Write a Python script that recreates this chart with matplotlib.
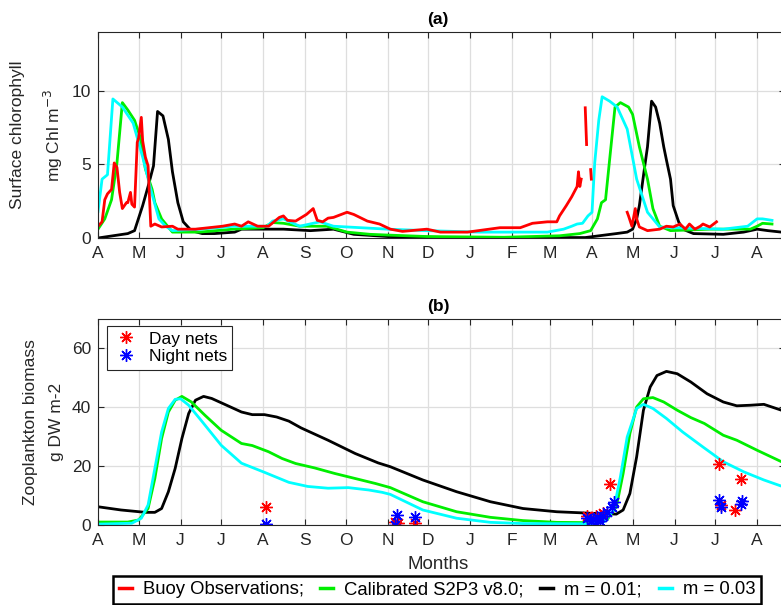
import numpy as np
import matplotlib
matplotlib.use('Agg')
import matplotlib.pyplot as plt
from matplotlib.lines import Line2D

plt.rcParams['font.family'] = ['Liberation Sans', 'DejaVu Sans']

# x axis is days since 1 April of the first year
MONTH_DAYS = [0, 30, 61, 91, 122, 153, 183, 214, 244, 275, 306, 334, 365, 395, 426, 456, 487]
MONTH_LABELS = ['A', 'M', 'J', 'J', 'A', 'S', 'O', 'N', 'D', 'J', 'F', 'M', 'A', 'M', 'J', 'J', 'A']

# ---- (a) surface chlorophyll, mg Chl m-3 ----
chl_obs_day = [0, 3, 5, 7, 10, 12, 14, 16, 18, 21, 22, 24, 25, 27, 29, 30, 32, 33, 35, 37, 39,
               42, 47, 55, 59, 72, 92, 101, 106, 111, 118, 126, 134, 137, 140, 146, 154, 159,
               162, 166, 170, 174, 184, 189, 199, 208, 216, 225, 243, 253, 273, 297, 312, 321,
               332, 339, 341, 346, 350, 354, 355, 356, 357,
               np.nan, 360, 361, np.nan, 364, 364.5, np.nan,
               391, 392, 394.5, 397, 398, 400, 406, 415, 420, 425, 430, 434, 437, 441, 445,
               447, 452, 457]
chl_obs_val = [0.8, 1.1, 2.6, 3.0, 3.3, 5.1, 4.8, 3.1, 2.0, 2.4, 2.4, 3.1, 2.3, 2.1, 6.5, 6.8,
               8.2, 6.6, 5.5, 4.9, 0.8, 0.95, 0.75, 0.8, 0.6, 0.6, 0.8, 0.95, 0.8, 1.1, 0.8,
               0.8, 1.4, 1.5, 1.2, 1.15, 1.6, 2.0, 1.2, 1.1, 1.35, 1.4, 1.75, 1.6, 1.15, 0.95,
               0.6, 0.45, 0.6, 0.4, 0.4, 0.7, 0.7, 1.0, 1.1, 1.1, 1.5, 2.2, 2.8, 3.5, 4.5, 3.5,
               4.0,
               np.nan, 8.85, 6.35, np.nan, 4.65, 4.0, np.nan,
               1.75, 1.5, 0.8, 2.0, 1.3, 0.75, 0.5, 0.6, 0.8, 0.75, 0.95, 0.6, 0.95, 0.6, 0.8,
               0.95, 0.75, 1.1]

chl_cal_day = [0, 5, 10, 14, 18, 22, 27, 31, 35, 40, 42, 47, 55, 75, 100, 122, 129, 137, 149,
               169, 184, 201, 214, 243, 300, 341, 356, 364, 369, 372, 375, 378, 382, 386, 392,
               395, 400, 406, 410, 415, 423, 452, 482, 487, 491, 498]
chl_cal_val = [0.6, 1.3, 2.6, 5.1, 9.2, 8.7, 8.0, 6.9, 4.7, 3.3, 2.4, 1.3, 0.4, 0.4, 0.6, 0.7,
               1.05, 1.0, 0.8, 0.8, 0.4, 0.25, 0.2, 0.1, 0.05, 0.15, 0.3, 0.5, 1.3, 2.4, 2.6,
               5.3, 8.9, 9.2, 8.9, 8.4, 6.2, 4.0, 2.0, 0.8, 0.5, 0.6, 0.6, 0.8, 1.0, 0.95]

chl_m01_day = [0, 22, 27, 33, 37, 41, 44, 48, 52, 55, 59, 63, 69, 77, 86, 101, 106, 121, 137,
               157, 174, 189, 214, 260, 360, 383, 391, 395, 398, 400, 404, 406, 409, 412, 415,
               418, 420, 423, 425, 429, 432, 440, 462, 477, 487, 495, 505]
chl_m01_val = [0.0, 0.3, 0.5, 2.2, 3.5, 4.9, 8.6, 8.3, 6.7, 4.5, 2.4, 1.1, 0.5, 0.3, 0.3, 0.4,
               0.6, 0.6, 0.6, 0.5, 0.6, 0.25, 0.1, 0.03, 0.03, 0.3, 0.4, 0.6, 1.3, 2.2, 4.9,
               6.2, 9.3, 8.9, 7.8, 6.2, 5.3, 4.0, 2.2, 1.1, 0.6, 0.3, 0.25, 0.4, 0.6, 0.5, 0.4]

chl_m03_day = [0, 3, 7, 11, 18, 26, 33, 39, 45, 50, 55, 75, 100, 125, 129, 137, 149, 164, 174,
               184, 214, 243, 282, 332, 344, 350, 354, 358, 362, 365, 367, 370, 372.5, 378,
               383.6, 391, 398, 406, 415, 425, 462, 480, 487, 491, 498]
chl_m03_val = [1.8, 4.0, 4.3, 9.45, 8.9, 7.8, 5.5, 3.3, 1.3, 0.8, 0.5, 0.6, 0.8, 0.8, 1.15,
               1.3, 0.8, 1.1, 0.8, 0.75, 0.6, 0.5, 0.4, 0.4, 0.6, 0.8, 0.95, 1.0, 1.5, 1.75,
               5.1, 8.0, 9.6, 9.3, 8.9, 7.4, 4.0, 1.75, 0.75, 0.7, 0.6, 0.8, 1.3, 1.3, 1.2]

# ---- (b) zooplankton biomass, g DW m-2 ----
zoo_cal_day = [0, 22, 30, 37, 42, 47, 52, 57, 62, 69, 79, 91, 106, 114, 126, 136, 146, 160,
               175, 190, 205, 216, 240, 265, 290, 314, 339, 366, 376, 383, 388, 393, 398, 403,
               410, 418, 428, 438, 448, 462, 472, 487, 505]
zoo_cal_val = [1.0, 1.0, 1.7, 5.6, 15.8, 29.4, 38.4, 42.4, 43.7, 41.8, 37.3, 32.2, 27.7,
               27.0, 24.9, 22.6, 20.9, 19.4, 17.5, 15.8, 14.1, 12.7, 7.9, 4.5, 2.6, 1.5, 0.9,
               0.8, 1.7, 6.2, 17.5, 31.1, 40.1, 42.9, 43.3, 41.8, 39.0, 36.5, 34.5, 30.5,
               28.8, 25.4, 21.5]

zoo_m01_day = [0, 17, 35, 42, 47, 52, 57, 62, 67, 72, 78, 84, 96, 106, 114, 123, 132, 141,
               150, 170, 190, 207, 216, 240, 265, 290, 314, 339, 364, 383, 388, 393, 398, 403,
               408, 413, 420, 428, 438, 450, 462, 472, 482, 492, 505]
zoo_m01_val = [6.2, 5.1, 4.3, 4.3, 5.6, 11.3, 19.2, 29.4, 37.9, 42.4, 43.7, 43.0, 40.5,
               38.4, 37.5, 37.5, 36.7, 35.3, 33.0, 28.8, 24.3, 21.1, 19.8, 15.3, 11.3, 7.9,
               5.6, 4.5, 4.0, 3.7, 5.1, 10.7, 23.2, 39.0, 46.9, 50.8, 52.2, 51.4, 48.6, 44.6,
               41.8, 40.5, 40.7, 41.0, 39.0]

zoo_m03_day = [0, 25, 32, 37, 42, 47, 52, 57, 61, 67, 77, 91, 106, 123, 141, 155, 170, 185,
               200, 210, 216, 240, 265, 290, 314, 364, 374, 381, 386, 391, 398, 403, 410, 420,
               432, 447, 462, 477, 492, 505]
zoo_m03_val = [0.3, 0.6, 2.3, 6.8, 19.2, 31.6, 39.6, 42.7, 42.9, 40.7, 35.1, 27.1, 21.0,
               17.9, 14.5, 13.1, 12.5, 12.7, 11.9, 11.1, 10.4, 5.1, 2.3, 0.9, 0.5, 0.4, 1.1,
               5.1, 16.4, 29.9, 39.6, 41.0, 39.6, 36.2, 31.6, 26.5, 21.5, 18.1, 15.3, 13.2]

day_nets_day = [124, 219.5, 221.7, 234, 361, 368, 373, 378, 459, 460, 471, 475]
day_nets_val = [6.1, 1.1, 0.7, 0.6, 3.0, 3.0, 4.2, 13.8, 20.7, 6.8, 5.1, 15.5]
night_nets_day = [124, 219.5, 221, 234, 361, 364, 366, 367, 369, 371, 373, 376, 380, 381,
                  459, 460, 475, 476]
night_nets_val = [0.3, 0.0, 3.4, 2.8, 2.4, 1.5, 2.0, 0.0, 2.7, 1.2, 3.0, 4.4, 6.1, 7.8,
                  8.5, 6.2, 7.3, 8.0]

OBS_C, CAL_C, M01_C, M03_C = '#ff0000', '#00ee00', '#000000', '#00ffff'
TXT_C = '0.15'
LW = 2.0
XMAX = 507.6
ASTERISK = (8, 2, 0)


def style_axes(ax, yticks, ylim):
    ax.set_xlim(0, XMAX)
    ax.set_ylim(*ylim)
    ax.set_xticks(MONTH_DAYS)
    ax.set_xticklabels(MONTH_LABELS)
    ax.set_yticks(yticks)
    ax.grid(True, color='0.87', linewidth=0.9)
    ax.set_axisbelow(True)
    ax.tick_params(direction='in', length=4, width=0.8, top=True, right=True,
                   labelsize=12.5, colors=TXT_C, pad=5)
    ax.tick_params(axis='x', pad=6)
    for s in ax.spines.values():
        s.set_color('0.15')
        s.set_linewidth(0.8)


fig = plt.figure(figsize=(7.81, 6.05), dpi=100)
ax_a = fig.add_axes([98 / 781, 1 - 238 / 605, 687 / 781, 206 / 605])
ax_b = fig.add_axes([98 / 781, 1 - 525 / 605, 687 / 781, 206 / 605])

# panel (a)
ax_a.plot(chl_m01_day, chl_m01_val, color=M01_C, lw=LW)
ax_a.plot(chl_cal_day, chl_cal_val, color=CAL_C, lw=LW)
ax_a.plot(chl_m03_day, chl_m03_val, color=M03_C, lw=LW)
ax_a.plot(chl_obs_day, chl_obs_val, color=OBS_C, lw=LW)
style_axes(ax_a, [0, 5, 10], (0, 14))
ax_a.set_title('(a)', fontsize=12.5, fontweight='bold', pad=6, x=(438 - 98) / 687)
ax_a.set_ylabel('Surface chlorophyll\nmg Chl m$^{-3}$', fontsize=12.5, color=TXT_C,
                linespacing=1.95)
ax_a.yaxis.set_label_coords(-0.048, 0.5)

# panel (b)
ax_b.plot(zoo_m01_day, zoo_m01_val, color=M01_C, lw=LW)
ax_b.plot(zoo_cal_day, zoo_cal_val, color=CAL_C, lw=LW)
ax_b.plot(zoo_m03_day, zoo_m03_val, color=M03_C, lw=LW)
ax_b.plot(day_nets_day, day_nets_val, ls='none', marker=ASTERISK, ms=9, mew=1.0,
          color=OBS_C, label='Day nets')
ax_b.plot(night_nets_day, night_nets_val, ls='none', marker=ASTERISK, ms=9, mew=1.0,
          color='#0000ff', label='Night nets')
style_axes(ax_b, [0, 20, 40, 60], (0, 70))
ax_b.set_title('(b)', fontsize=12.5, fontweight='bold', pad=6, x=(438 - 98) / 687)
ax_b.set_ylabel('Zooplankton biomass\ng DW m-2', fontsize=12.5, color=TXT_C,
                linespacing=1.85)
ax_b.yaxis.set_label_coords(-0.05, 0.5)
ax_b.set_xlabel('Months', fontsize=13.5, color=TXT_C, labelpad=2)
ax_b.xaxis.set_label_coords((438 - 98) / 687, -0.15)
leg = ax_b.legend(loc='upper left', bbox_to_anchor=(0.013, 0.965), fontsize=12.5,
                  fancybox=False, edgecolor='0.15', framealpha=1, borderpad=0.3,
                  handletextpad=0.5, labelspacing=0.15, handlelength=1.6,
                  borderaxespad=0)
leg.get_frame().set_linewidth(0.8)

# bottom legend
handles = [Line2D([], [], color=c, lw=2.5) for c in (OBS_C, CAL_C, M01_C, M03_C)]
labels = ['Buoy Observations;', 'Calibrated S2P3 v8.0;', 'm = 0.01;', 'm = 0.03']
fleg = fig.legend(handles, labels, loc='center', bbox_to_anchor=(437 / 781, 1 - 590 / 605),
                  ncol=4, fontsize=13.3, fancybox=False, edgecolor='black', framealpha=1,
                  handlelength=0.7, handletextpad=0.6, columnspacing=0.9, borderpad=0.3)
fleg.get_frame().set_linewidth(1.8)

fig.savefig('out.png', dpi=100)
